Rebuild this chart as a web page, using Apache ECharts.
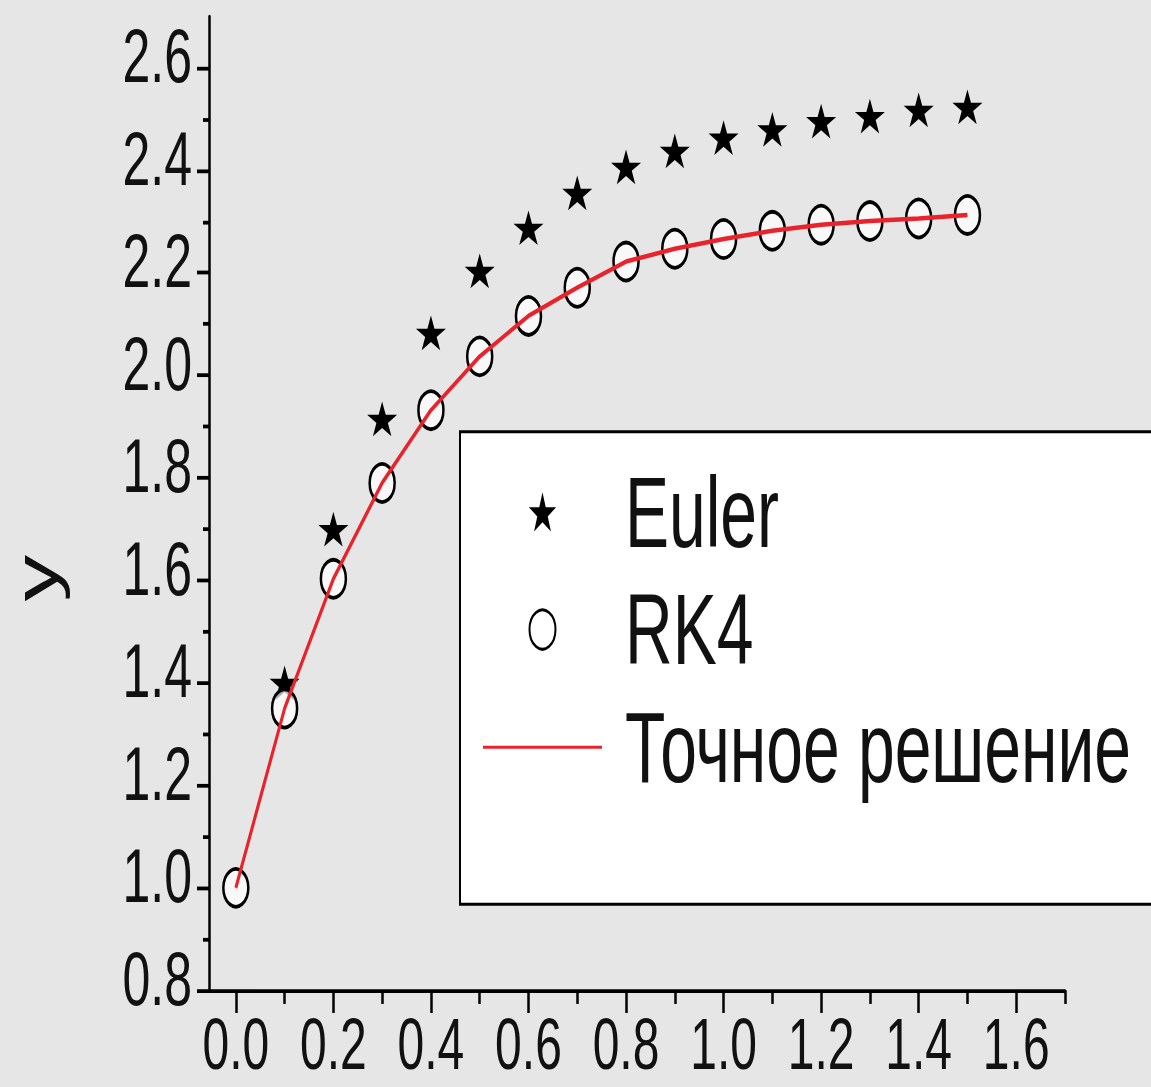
<!DOCTYPE html>
<html>
<head>
<meta charset="utf-8">
<script src="https://cdn.jsdelivr.net/npm/echarts@6/dist/echarts.min.js"></script>
<style>
  html, body { margin: 0; padding: 0; background: #e6e6e6; }
  #wrap { width: 1151px; height: 1087px; overflow: hidden; position: relative; }
  /* the source plot is stretched vertically, so the chart is drawn flatter and scaled up */
  #chart { position: absolute; left: 0; top: 0; width: 1151px; height: 720px; transform: scaleY(1.5097); transform-origin: 0 0; }
</style>
</head>
<body>
<div id="wrap"><div id="chart"></div></div>
<script>
const xValues = [0, 0.1, 0.2, 0.3, 0.4, 0.5, 0.6, 0.7, 0.8, 0.9, 1.0, 1.1, 1.2, 1.3, 1.4, 1.5]
const eulerX = [0.1, 0.2, 0.3, 0.4, 0.5, 0.6, 0.7, 0.8, 0.9, 1.0, 1.1, 1.2, 1.3, 1.4, 1.5]
const eulerY = [1.40, 1.70, 1.915, 2.083, 2.204, 2.288, 2.356, 2.407, 2.438, 2.464, 2.480, 2.496, 2.506, 2.518, 2.524]
const rk4Y = [1.0, 1.35, 1.603, 1.79, 1.932, 2.037, 2.116, 2.171, 2.222, 2.247, 2.266, 2.282, 2.294, 2.301, 2.306, 2.313]
const exactY = [1.0, 1.35, 1.603, 1.79, 1.932, 2.037, 2.116, 2.171, 2.222, 2.247, 2.266, 2.282, 2.294, 2.301, 2.306, 2.313]

const xTicks = [0, 0.2, 0.4, 0.6, 0.8, 1.0, 1.2, 1.4, 1.6]
const xMinorTicks = [0.1, 0.3, 0.5, 0.7, 0.9, 1.1, 1.3, 1.5, 1.7]
const yTicks = [0.8, 1.0, 1.2, 1.4, 1.6, 1.8, 2.0, 2.2, 2.4, 2.6]
const yMinorTicks = [0.9, 1.1, 1.3, 1.5, 1.7, 1.9, 2.1, 2.3, 2.5]

const starPath = 'path://M50 0 L61.2 34.5 L97.6 34.5 L68.2 55.9 L79.4 90.5 L50 69.1 L20.6 90.5 L31.8 55.9 L2.4 34.5 L38.8 34.5 Z'
const lineIcon = 'path://M0 0 H119 V2 H0 Z'
const font = 'Liberation Sans, Arial, sans-serif'

const chart = echarts.init(document.getElementById('chart'), null, { renderer: 'svg' })

chart.setOption({
  backgroundColor: '#e6e6e6',
  animation: false,
  grid: {
    left: 209,
    right: 86,
    top: 11,
    bottom: 64,
    outerBoundsMode: 'none'
  },
  legend: {
    orient: 'vertical',
    left: 460,
    top: 286,
    padding: [20, 80, 71, 23],
    itemWidth: 119,
    itemHeight: 26,
    itemGap: 12,
    backgroundColor: '#fff',
    borderColor: '#000',
    borderWidth: 2,
    textStyle: {
      fontFamily: font,
      fontSize: 66,
      color: '#111',
      padding: [0, 0, 0, 18]
    },
    data: [
      { name: 'Euler' },
      { name: 'RK4' },
      { name: 'Точное решение', icon: lineIcon }
    ]
  },
  xAxis: [
    {
      type: 'value',
      min: -0.055,
      max: 1.7,
      splitLine: { show: false },
      axisLine: { onZero: false, lineStyle: { color: '#000', width: 2.5 } },
      axisTick: { length: 15, customValues: xTicks, lineStyle: { color: '#000', width: 2.5 } },
      axisLabel: {
        customValues: xTicks,
        margin: 15,
        fontFamily: font,
        fontSize: 48,
        lineHeight: 40,
        color: '#111',
        formatter: v => v.toFixed(1)
      }
    },
    {
      type: 'value',
      position: 'bottom',
      min: -0.055,
      max: 1.7,
      splitLine: { show: false },
      axisLine: { show: false, onZero: false },
      axisLabel: { show: false },
      axisTick: { length: 9, customValues: xMinorTicks, lineStyle: { color: '#000', width: 2.5 } }
    }
  ],
  yAxis: [
    {
      type: 'value',
      min: 0.8,
      max: 2.7,
      name: 'y',
      nameLocation: 'middle',
      nameGap: 148,
      nameTextStyle: {
        fontFamily: font,
        fontSize: 62,
        lineHeight: 50,
        color: '#111',
        padding: [0, 99, 0, 0]
      },
      splitLine: { show: false },
      axisLine: { onZero: false, lineStyle: { color: '#000', width: 2.5 } },
      axisTick: { length: 12, customValues: yTicks, lineStyle: { color: '#000', width: 2.5 } },
      axisLabel: {
        customValues: yTicks,
        margin: 17,
        fontFamily: font,
        fontSize: 50,
        lineHeight: 15,
        verticalAlign: 'bottom',
        color: '#111',
        formatter: v => v.toFixed(1)
      }
    },
    {
      type: 'value',
      position: 'left',
      min: 0.8,
      max: 2.7,
      splitLine: { show: false },
      axisLine: { show: false, onZero: false },
      axisLabel: { show: false },
      axisTick: { length: 6, customValues: yMinorTicks, lineStyle: { color: '#000', width: 2.5 } }
    }
  ],
  series: [
    {
      name: 'Euler',
      type: 'scatter',
      symbol: starPath,
      symbolSize: [30, 23],
      symbolKeepAspect: false,
      itemStyle: { color: '#000', opacity: 1 },
      z: 2,
      data: eulerX.map((x, i) => [x, eulerY[i]])
    },
    {
      name: 'RK4',
      type: 'scatter',
      symbol: 'circle',
      symbolSize: 25,
      itemStyle: { color: 'rgba(255,255,255,0.7)', borderColor: '#000', borderWidth: 2.5, opacity: 1 },
      z: 3,
      data: xValues.map((x, i) => [x, rk4Y[i]])
    },
    {
      name: 'Точное решение',
      type: 'line',
      symbol: 'none',
      lineStyle: { color: '#e8232b', width: 3 },
      itemStyle: { color: '#e8232b' },
      z: 4,
      data: xValues.map((x, i) => [x, exactY[i]])
    }
  ]
})
</script>
</body>
</html>
